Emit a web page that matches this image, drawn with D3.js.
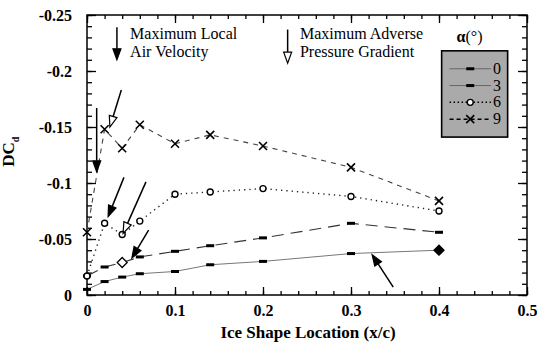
<!DOCTYPE html>
<html>
<head>
<meta charset="utf-8">
<script src="https://cdn.jsdelivr.net/npm/d3@7"></script>
<style>
  body { margin: 0; background: #fff; }
  svg { display: block; }
  svg text { font-family: "Liberation Serif", "Times New Roman", Times, serif !important; }
</style>
</head>
<body>
<div id="my_dataviz"></div>
<script>
// data: ice shape location (x/c) vs delta Cd
const xLoc = [0, 0.02, 0.04, 0.06, 0.1, 0.14, 0.2, 0.3, 0.4];
const cd0 = [-0.005, -0.012, -0.016, -0.019, -0.021, -0.027, -0.030, -0.037, -0.040];
const cd3 = [-0.017, -0.025, -0.029, -0.034, -0.039, -0.044, -0.051, -0.064, -0.056];
const cd6 = [-0.017, -0.064, -0.054, -0.066, -0.090, -0.092, -0.095, -0.088, -0.075];
const cd9 = [-0.056, -0.148, -0.131, -0.152, -0.135, -0.143, -0.133, -0.114, -0.084];
const seriesNames = ["0", "3", "6", "9"];
const xTicks = [0, 0.1, 0.2, 0.3, 0.4, 0.5];
const yTicks = [0, -0.05, -0.1, -0.15, -0.2, -0.25];

const serif = '"Liberation Serif", "Times New Roman", Times, serif';

// set the dimensions and margins of the graph
let margin = { top: 15, right: 10, bottom: 52, left: 87 };
let width = 537 - margin.left - margin.right;
let height = 347 - margin.top - margin.bottom;

var svg = d3
  .select("#my_dataviz")
  .append("svg")
  .attr("width", 537)
  .attr("height", 347)
  .attr("font-family", serif)
  .append("g")
  .attr("transform", "translate(" + margin.left + "," + margin.top + ")");

let x = d3.scaleLinear().domain([0, 0.5]).range([0, width]);
let y = d3.scaleLinear().domain([0, -0.25]).range([height, 0]);

// frame
svg.append("rect")
  .attr("width", width).attr("height", height)
  .attr("fill", "none").attr("stroke", "#000").attr("stroke-width", 1.5);

let minorX = d3.range(0, 0.5001, 0.02);
let minorY = d3.range(0, -0.2501, -0.01);

function styleAxis(g) {
  g.attr("font-family", serif);
  g.select(".domain").remove();
  g.selectAll("line").attr("stroke", "#000").attr("stroke-width", 1.3);
  g.selectAll("text")
    .style("font-size", "16px")
    .style("font-weight", "bold")
    .attr("fill", "#000");
}

// bottom axis: inward ticks
svg.append("g").attr("transform", "translate(0," + height + ")")
  .call(d3.axisBottom(x).tickValues(minorX).tickSize(-4).tickFormat(""))
  .call(styleAxis);
svg.append("g").attr("transform", "translate(0," + height + ")")
  .call(d3.axisBottom(x).tickValues(xTicks).tickSize(-8).tickPadding(10).tickFormat(d => String(d)))
  .call(styleAxis);
// top axis
svg.append("g")
  .call(d3.axisTop(x).tickValues(minorX).tickSize(-4).tickFormat(""))
  .call(styleAxis);
svg.append("g")
  .call(d3.axisTop(x).tickValues(xTicks).tickSize(-8).tickFormat(""))
  .call(styleAxis);
// left axis
svg.append("g")
  .call(d3.axisLeft(y).tickValues(minorY).tickSize(-5).tickFormat(""))
  .call(styleAxis);
svg.append("g")
  .call(d3.axisLeft(y).tickValues(yTicks).tickSize(-9).tickPadding(15).tickFormat(d => String(d)))
  .call(styleAxis);
// right axis
svg.append("g").attr("transform", "translate(" + width + ",0)")
  .call(d3.axisRight(y).tickValues(minorY).tickSize(-5).tickFormat(""))
  .call(styleAxis);
svg.append("g").attr("transform", "translate(" + width + ",0)")
  .call(d3.axisRight(y).tickValues(yTicks).tickSize(-9).tickFormat(""))
  .call(styleAxis);

// axis titles
svg.append("text")
  .attr("x", x(0.25) + 1).attr("y", height + 43)
  .attr("text-anchor", "middle")
  .style("font-size", "17px").style("font-weight", "bold")
  .text("Ice Shape Location (x/c)");

let ylab = svg.append("text")
  .attr("transform", "translate(" + (-73) + "," + y(-0.128) + ") rotate(-90)")
  .attr("text-anchor", "middle")
  .style("font-size", "17px").style("font-weight", "bold");
ylab.append("tspan").text("DC");
ylab.append("tspan").attr("dy", 5).style("font-size", "10px").text("d");

// series definitions
let series = [
  { name: "0", vals: cd0, stroke: "#777", dash: null, width: 1, marker: "bar" },
  { name: "3", vals: cd3, stroke: "#333", dash: "12,7", width: 1.1, marker: "bar" },
  { name: "6", vals: cd6, stroke: "#222", dash: "1.3,4", width: 1.4, marker: "circle" },
  { name: "9", vals: cd9, stroke: "#444", dash: "5,5", width: 1.1, marker: "cross" }
];

let line = d3.line().x((d, i) => x(xLoc[i])).y(d => y(d));

function drawMarker(g, type, px, py) {
  if (type === "bar") {
    g.append("rect").attr("x", px - 4).attr("y", py - 1.5)
      .attr("width", 8).attr("height", 3).attr("fill", "#000");
  } else if (type === "circle") {
    g.append("circle").attr("cx", px).attr("cy", py).attr("r", 3)
      .attr("fill", "#fff").attr("stroke", "#000").attr("stroke-width", 1.4);
  } else if (type === "cross") {
    g.append("path")
      .attr("d", `M${px - 4},${py - 4}L${px + 4},${py + 4}M${px - 4},${py + 4}L${px + 4},${py - 4}`)
      .attr("stroke", "#000").attr("stroke-width", 1.6);
  } else if (type === "diamondOpen" || type === "diamondFilled") {
    g.append("path")
      .attr("d", `M${px},${py - 5}L${px + 5},${py}L${px},${py + 5}L${px - 5},${py}Z`)
      .attr("fill", type === "diamondFilled" ? "#000" : "#fff")
      .attr("stroke", "#000").attr("stroke-width", 1.3);
  }
}

series.forEach(function(s) {
  svg.append("path")
    .attr("d", line(s.vals))
    .attr("fill", "none")
    .attr("stroke", s.stroke)
    .attr("stroke-width", s.width)
    .attr("stroke-dasharray", s.dash);
});

series.forEach(function(s) {
  let g = svg.append("g");
  s.vals.forEach(function(v, i) {
    let type = s.marker;
    if (s.name === "0" && i === xLoc.length - 1) type = "diamondFilled";
    if (s.name === "3" && xLoc[i] === 0.04) type = "diamondOpen";
    drawMarker(g, type, x(xLoc[i]), y(v));
  });
});

// arrows (data coords: from -> to), open = hollow head
const arrows = [
  { x1: 0.034, y1: -0.239, x2: 0.034, y2: -0.210, open: false },
  { x1: 0.228, y1: -0.237, x2: 0.228, y2: -0.207, open: true },
  { x1: 0.011, y1: -0.167, x2: 0.011, y2: -0.110, open: false },
  { x1: 0.039, y1: -0.183, x2: 0.026, y2: -0.150, open: true },
  { x1: 0.042, y1: -0.105, x2: 0.024, y2: -0.070, open: false },
  { x1: 0.067, y1: -0.101, x2: 0.041, y2: -0.055, open: true },
  { x1: 0.070, y1: -0.058, x2: 0.051, y2: -0.033, open: false },
  { x1: 0.348, y1: -0.007, x2: 0.324, y2: -0.036, open: false }
];

arrows.forEach(function(a) {
  let px1 = x(a.x1), py1 = y(a.y1), px2 = x(a.x2), py2 = y(a.y2);
  let ang = Math.atan2(py2 - py1, px2 - px1);
  let len = 11, half = 4;
  let bx = px2 - len * Math.cos(ang), by = py2 - len * Math.sin(ang);
  let nx = -Math.sin(ang) * half, ny = Math.cos(ang) * half;
  svg.append("line")
    .attr("x1", px1).attr("y1", py1).attr("x2", bx).attr("y2", by)
    .attr("stroke", "#000").attr("stroke-width", 1.5);
  svg.append("path")
    .attr("d", `M${px2},${py2}L${bx + nx},${by + ny}L${bx - nx},${by - ny}Z`)
    .attr("fill", a.open ? "#fff" : "#000")
    .attr("stroke", "#000").attr("stroke-width", 1.2);
});

// annotation text
function note(lines, xv, yv) {
  let t = svg.append("text").attr("x", x(xv)).attr("y", y(yv))
    .style("font-size", "16px").attr("fill", "#000");
  lines.forEach(function(l, i) {
    t.append("tspan").attr("x", x(xv)).attr("dy", i === 0 ? 0 : 18).text(l);
  });
}
note(["Maximum Local", "Air Velocity"], 0.049, -0.229);
note(["Maximum Adverse", "Pressure Gradient"], 0.242, -0.229);

// legend
let lg = svg.append("g");
let lx0 = x(0.403), lx1 = x(0.478);
lg.append("rect")
  .attr("x", lx0).attr("y", y(-0.218))
  .attr("width", lx1 - lx0).attr("height", y(-0.141) - y(-0.218))
  .attr("fill", "#aaaaaa").attr("stroke", "#000").attr("stroke-width", 1.6);
lg.append("text")
  .attr("x", x(0.42)).attr("y", y(-0.226))
  .style("font-size", "16px")
  .html('<tspan font-weight="bold">α</tspan>(°)');

series.forEach(function(s, i) {
  let ly = y(-0.202 + i * 0.015);
  let la = x(0.412), lb = x(0.459);
  lg.append("line")
    .attr("x1", la).attr("x2", lb).attr("y1", ly).attr("y2", ly)
    .attr("stroke", i < 2 ? "#666" : "#000")
    .attr("stroke-width", i < 2 ? 1 : 1.5)
    .attr("stroke-dasharray", i === 2 ? "1.5,2.5" : i === 3 ? "4,3" : null);
  drawMarker(lg, s.marker, (la + lb) / 2, ly);
  lg.append("text")
    .attr("x", lb + 2).attr("y", ly + 5)
    .style("font-size", "16px")
    .text(s.name);
});
</script>
</body>
</html>
